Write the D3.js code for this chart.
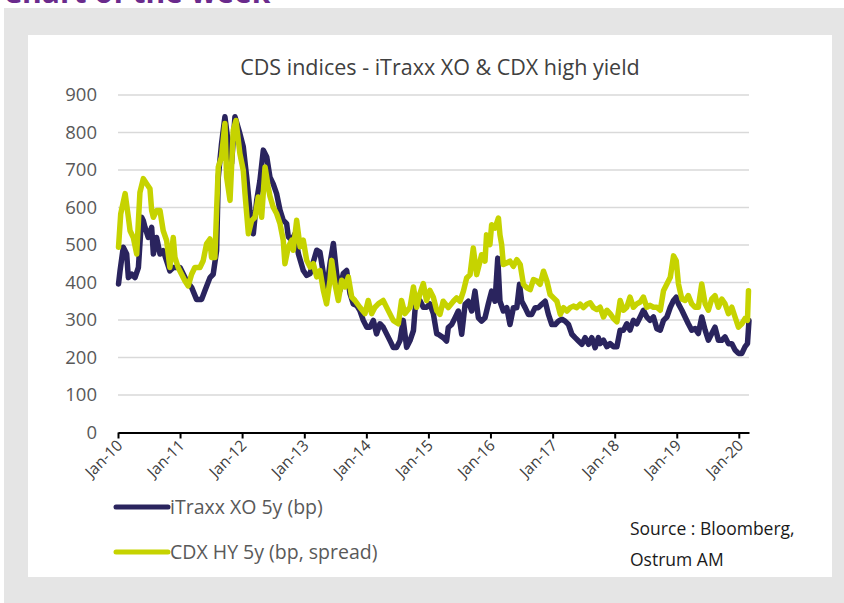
<!DOCTYPE html>
<html>
<head>
<meta charset="utf-8">
<script src="https://cdn.jsdelivr.net/npm/d3@7"></script>
<style>
  body { margin: 0; background: #fff; }
  svg { display: block; font-family: "Open Sans", Lato, sans-serif; }
</style>
</head>
<body>
<div id="chart"></div>
<script>
// iTraxx Crossover 5y (bp)
const itraxx = [
    ['2010-01-04', 396], ['2010-01-13', 431], ['2010-02-01', 494], ['2010-02-21', 476],
    ['2010-03-03', 413], ['2010-03-23', 422], ['2010-04-11', 413], ['2010-05-01', 440],
    ['2010-05-20', 574], ['2010-05-30', 565], ['2010-06-09', 547], ['2010-06-28', 520],
    ['2010-07-18', 547], ['2010-07-28', 476], ['2010-08-16', 520], ['2010-09-05', 476],
    ['2010-09-24', 485], ['2010-10-14', 458], ['2010-11-02', 431], ['2010-11-22', 440],
    ['2011-01-01', 440], ['2011-02-09', 404], ['2011-03-10', 387], ['2011-04-08', 355],
    ['2011-05-08', 355], ['2011-05-27', 378], ['2011-06-26', 413], ['2011-07-15', 422],
    ['2011-08-04', 485], ['2011-08-14', 681], ['2011-09-02', 770], ['2011-09-22', 842],
    ['2011-10-12', 770], ['2011-10-31', 717], ['2011-11-20', 842], ['2011-12-19', 797],
    ['2012-01-08', 762], ['2012-01-28', 681], ['2012-02-16', 592], ['2012-03-07', 530],
    ['2012-03-27', 619], ['2012-04-15', 672], ['2012-05-05', 753], ['2012-05-25', 735],
    ['2012-06-13', 681], ['2012-07-02', 663], ['2012-07-22', 637], ['2012-08-11', 593],
    ['2012-08-30', 566], ['2012-09-19', 557], ['2012-09-29', 522], ['2012-10-19', 513],
    ['2012-11-07', 530], ['2012-11-27', 477], ['2012-12-26', 432], ['2013-01-15', 419],
    ['2013-02-04', 424], ['2013-02-23', 455], ['2013-03-15', 486], ['2013-04-03', 481],
    ['2013-04-23', 424], ['2013-05-12', 379], ['2013-06-01', 450], ['2013-06-21', 504],
    ['2013-07-10', 424], ['2013-07-30', 379], ['2013-08-18', 424], ['2013-09-07', 432],
    ['2013-09-27', 370], ['2013-10-16', 343], ['2013-11-05', 339], ['2013-11-24', 325],
    ['2013-12-14', 299], ['2014-01-03', 281], ['2014-01-22', 281], ['2014-02-11', 299],
    ['2014-03-02', 263], ['2014-03-22', 290], ['2014-04-10', 281], ['2014-04-30', 263],
    ['2014-05-20', 245], ['2014-06-08', 227], ['2014-06-28', 227], ['2014-07-18', 245],
    ['2014-08-06', 299], ['2014-08-26', 227], ['2014-09-15', 245], ['2014-10-05', 272],
    ['2014-10-14', 325], ['2014-10-24', 352], ['2014-11-12', 352], ['2014-12-02', 334],
    ['2014-12-21', 334], ['2015-01-10', 343], ['2015-01-30', 317], ['2015-02-19', 263],
    ['2015-02-28', 262], ['2015-03-29', 253], ['2015-04-18', 244], ['2015-04-28', 280],
    ['2015-05-18', 288], ['2015-06-07', 306], ['2015-06-26', 324], ['2015-07-16', 262],
    ['2015-08-05', 342], ['2015-08-24', 350], ['2015-09-13', 324], ['2015-10-02', 377],
    ['2015-10-22', 306], ['2015-11-10', 297], ['2015-11-30', 306], ['2015-12-19', 342],
    ['2016-01-08', 377], ['2016-01-28', 350], ['2016-02-13', 465], ['2016-02-26', 350],
    ['2016-03-17', 324], ['2016-04-06', 333], ['2016-04-25', 288], ['2016-05-15', 333],
    ['2016-06-04', 333], ['2016-06-20', 395], ['2016-07-03', 350], ['2016-07-23', 333],
    ['2016-08-11', 315], ['2016-08-31', 315], ['2016-09-20', 333], ['2016-10-09', 333],
    ['2016-10-29', 342], ['2016-11-18', 350], ['2016-12-07', 315], ['2016-12-27', 288],
    ['2017-01-16', 288], ['2017-02-04', 297], ['2017-02-24', 302], ['2017-03-15', 297],
    ['2017-04-04', 288], ['2017-04-24', 262], ['2017-05-13', 253], ['2017-06-02', 244],
    ['2017-06-22', 235], ['2017-07-11', 253], ['2017-07-31', 235], ['2017-08-19', 253],
    ['2017-09-08', 226], ['2017-09-27', 253], ['2017-10-07', 237], ['2017-10-27', 246],
    ['2017-11-16', 229], ['2017-12-05', 237], ['2017-12-25', 229], ['2018-01-14', 229],
    ['2018-02-02', 273], ['2018-02-22', 273], ['2018-03-13', 290], ['2018-04-01', 273],
    ['2018-04-21', 299], ['2018-05-11', 290], ['2018-05-31', 308], ['2018-06-19', 326],
    ['2018-07-09', 308], ['2018-07-28', 299], ['2018-08-17', 308], ['2018-09-06', 277],
    ['2018-09-26', 273], ['2018-10-15', 299], ['2018-11-04', 308], ['2018-11-24', 334],
    ['2018-12-13', 352], ['2018-12-29', 361], ['2019-01-11', 343], ['2019-01-31', 326],
    ['2019-02-19', 308], ['2019-03-10', 290], ['2019-03-30', 273], ['2019-04-19', 277],
    ['2019-05-08', 264], ['2019-05-28', 308], ['2019-06-17', 273], ['2019-07-06', 246],
    ['2019-07-26', 264], ['2019-08-14', 281], ['2019-09-03', 246], ['2019-09-23', 246],
    ['2019-10-12', 255], ['2019-11-01', 237], ['2019-11-21', 237], ['2019-12-10', 220],
    ['2019-12-30', 211], ['2020-01-19', 211], ['2020-02-07', 229], ['2020-02-21', 237],
    ['2020-03-01', 299]
];

// CDX HY 5y (bp, spread)
const cdxHy = [
    ['2010-01-04', 494], ['2010-01-17', 583], ['2010-02-12', 637], ['2010-03-03', 574],
    ['2010-03-13', 538], ['2010-04-01', 520], ['2010-04-21', 476], ['2010-05-10', 640],
    ['2010-05-30', 677], ['2010-06-19', 663], ['2010-07-08', 650], ['2010-07-18', 592],
    ['2010-07-28', 574], ['2010-08-16', 592], ['2010-09-05', 592], ['2010-09-24', 538],
    ['2010-10-14', 512], ['2010-11-02', 440], ['2010-11-22', 520], ['2010-12-02', 467],
    ['2010-12-21', 440], ['2011-01-10', 422], ['2011-01-30', 404], ['2011-02-18', 391],
    ['2011-03-10', 422], ['2011-03-29', 440], ['2011-04-28', 440], ['2011-05-17', 458],
    ['2011-06-06', 503], ['2011-06-26', 516], ['2011-07-05', 467], ['2011-07-25', 467],
    ['2011-08-04', 592], ['2011-08-14', 708], ['2011-09-02', 735], ['2011-09-22', 824],
    ['2011-10-02', 681], ['2011-10-22', 619], ['2011-11-10', 806], ['2011-11-26', 832],
    ['2011-12-19', 744], ['2012-01-08', 699], ['2012-01-18', 637], ['2012-02-07', 530],
    ['2012-02-26', 565], ['2012-03-17', 574], ['2012-04-05', 628], ['2012-04-25', 574],
    ['2012-05-15', 708], ['2012-06-03', 654], ['2012-06-13', 630], ['2012-07-02', 601],
    ['2012-07-22', 584], ['2012-08-11', 557], ['2012-08-30', 513], ['2012-09-09', 450],
    ['2012-09-29', 495], ['2012-10-19', 513], ['2012-10-28', 486], ['2012-11-17', 566],
    ['2012-12-07', 495], ['2012-12-26', 513], ['2013-01-15', 459], ['2013-02-04', 441],
    ['2013-02-23', 450], ['2013-03-15', 415], ['2013-04-03', 432], ['2013-04-23', 379],
    ['2013-05-12', 343], ['2013-06-01', 406], ['2013-06-11', 459], ['2013-06-30', 397],
    ['2013-07-20', 352], ['2013-08-09', 406], ['2013-08-28', 388], ['2013-09-17', 415],
    ['2013-10-07', 361], ['2013-10-26', 352], ['2013-11-24', 334], ['2013-12-24', 317],
    ['2014-01-12', 352], ['2014-02-01', 317], ['2014-02-21', 334], ['2014-03-12', 343],
    ['2014-04-10', 352], ['2014-05-10', 325], ['2014-06-08', 299], ['2014-07-08', 290],
    ['2014-07-27', 352], ['2014-08-16', 317], ['2014-09-15', 334], ['2014-10-05', 388],
    ['2014-10-24', 334], ['2014-11-12', 370], ['2014-12-02', 397], ['2014-12-21', 352],
    ['2015-01-10', 379], ['2015-01-30', 361], ['2015-02-19', 325], ['2015-03-10', 315],
    ['2015-03-29', 350], ['2015-04-28', 333], ['2015-05-28', 350], ['2015-06-16', 359],
    ['2015-07-06', 350], ['2015-07-26', 377], ['2015-08-14', 412], ['2015-09-03', 421],
    ['2015-09-22', 492], ['2015-10-12', 421], ['2015-11-01', 457], ['2015-11-10', 474],
    ['2015-11-30', 457], ['2015-12-09', 527], ['2015-12-29', 501], ['2016-01-08', 554],
    ['2016-01-28', 545], ['2016-02-17', 572], ['2016-02-26', 527], ['2016-03-07', 501],
    ['2016-03-17', 448], ['2016-04-06', 452], ['2016-04-25', 457], ['2016-05-15', 443],
    ['2016-06-04', 461], ['2016-06-24', 448], ['2016-07-13', 395], ['2016-08-02', 386],
    ['2016-08-22', 381], ['2016-09-10', 408], ['2016-09-30', 404], ['2016-10-19', 395],
    ['2016-11-08', 430], ['2016-11-28', 404], ['2016-12-17', 368], ['2017-01-06', 359],
    ['2017-01-26', 350], ['2017-02-15', 315], ['2017-03-06', 333], ['2017-03-26', 324],
    ['2017-04-14', 333], ['2017-05-03', 337], ['2017-05-23', 333], ['2017-06-12', 342],
    ['2017-07-01', 333], ['2017-07-21', 342], ['2017-08-10', 346], ['2017-08-29', 333],
    ['2017-09-18', 328], ['2017-10-07', 334], ['2017-10-27', 308], ['2017-11-16', 326],
    ['2017-12-05', 317], ['2017-12-25', 304], ['2018-01-14', 295], ['2018-02-02', 352],
    ['2018-02-22', 326], ['2018-03-13', 334], ['2018-04-01', 361], ['2018-04-21', 334],
    ['2018-05-11', 343], ['2018-05-31', 348], ['2018-06-19', 361], ['2018-07-09', 334],
    ['2018-07-28', 339], ['2018-08-17', 334], ['2018-09-06', 334], ['2018-09-26', 326],
    ['2018-10-15', 378], ['2018-11-04', 396], ['2018-11-24', 414], ['2018-12-13', 471],
    ['2018-12-29', 458], ['2019-01-11', 396], ['2019-01-31', 356], ['2019-02-19', 352],
    ['2019-03-10', 365], ['2019-03-30', 343], ['2019-04-19', 334], ['2019-05-08', 334],
    ['2019-05-28', 396], ['2019-06-17', 343], ['2019-07-06', 326], ['2019-07-26', 356],
    ['2019-08-14', 365], ['2019-09-03', 334], ['2019-09-23', 356], ['2019-10-12', 343],
    ['2019-11-01', 317], ['2019-11-21', 334], ['2019-12-10', 308], ['2019-12-30', 281],
    ['2020-01-19', 290], ['2020-02-07', 304], ['2020-02-21', 299], ['2020-02-27', 378]
];

const yTicks = [0, 100, 200, 300, 400, 500, 600, 700, 800, 900];
const xTickYears = [2010, 2011, 2012, 2013, 2014, 2015, 2016, 2017, 2018, 2019, 2020];

const seriesInfo = [
    { name: 'iTraxx XO 5y (bp)', data: itraxx, color: '#2a245e' },
    { name: 'CDX HY 5y (bp, spread)', data: cdxHy, color: '#c6d300' }
];

const width = 844;
const height = 603;
const marginLeft = 118;
const marginRight = 95;
const marginTop = 95;
const plotBottom = 432.5;

const parseDate = d3.timeParse('%Y-%m-%d');

const svg = d3.select('#chart').append('svg')
    .attr('width', width)
    .attr('height', height)
    .attr('viewBox', [0, 0, width, height]);

// page header, mostly cut off at the top
svg.append('text')
    .attr('x', 3)
    .attr('y', 3)
    .attr('fill', '#6a2a8c')
    .attr('font-weight', 'bold')
    .attr('font-size', 30)
    .text('Chart of the week');

svg.append('rect')
    .attr('x', 4).attr('y', 8)
    .attr('width', width - 4).attr('height', height - 8)
    .attr('fill', '#e5e5e5');

svg.append('rect')
    .attr('x', 28).attr('y', 35)
    .attr('width', 804).attr('height', 542)
    .attr('fill', '#ffffff');

const x = d3.scaleTime()
    .domain([new Date(2010, 0, 1), new Date(2020, 2, 1)])
    .range([marginLeft, width - marginRight]);

const y = d3.scaleLinear()
    .domain([0, 900])
    .range([plotBottom, marginTop]);

// gridlines
svg.append('g')
    .selectAll('line')
    .data(yTicks.filter(d => d > 0))
    .join('line')
    .attr('x1', marginLeft)
    .attr('x2', width - marginRight)
    .attr('y1', d => y(d))
    .attr('y2', d => y(d))
    .attr('stroke', '#d9d9d9')
    .attr('stroke-width', 1.5);

// y axis labels
svg.append('g')
    .attr('transform', `translate(${marginLeft - 21},0)`)
    .call(d3.axisLeft(y).tickValues(yTicks).tickSize(0).tickPadding(0))
    .call(g => g.select('.domain').remove())
    .call(g => g.selectAll('text')
        .attr('fill', '#595959')
        .attr('font-size', 18.5)
        .attr('font-family', '"Open Sans", sans-serif'));

// series lines
const line = d3.line()
    .x(d => x(parseDate(d[0])))
    .y(d => y(d[1]));

svg.append('g')
    .selectAll('path')
    .data(seriesInfo)
    .join('path')
    .attr('fill', 'none')
    .attr('stroke', d => d.color)
    .attr('stroke-width', 5.5)
    .attr('stroke-linejoin', 'round')
    .attr('stroke-linecap', 'round')
    .attr('d', d => line(d.data));

// x axis
svg.append('g')
    .attr('transform', `translate(0,${plotBottom})`)
    .call(d3.axisBottom(x)
        .tickValues(xTickYears.map(yr => new Date(yr, 0, 1)))
        .tickFormat(d3.timeFormat('%b-%y'))
        .tickSize(6)
        .tickSizeOuter(0))
    .call(g => g.select('.domain').attr('stroke', '#000').attr('stroke-width', 2))
    .call(g => g.selectAll('.tick line').attr('stroke', '#000').attr('stroke-width', 2))
    .call(g => g.selectAll('text')
        .attr('fill', '#404040')
        .attr('font-size', 15.5)
        .attr('font-family', '"Open Sans", sans-serif')
        .attr('text-anchor', 'end')
        .attr('dy', null)
        .attr('y', 0)
        .attr('transform', 'translate(5,14) rotate(-45)'));

// title
svg.append('text')
    .attr('x', 440)
    .attr('y', 75)
    .attr('text-anchor', 'middle')
    .attr('fill', '#404040')
    .attr('font-size', 21.5)
    .text('CDS indices - iTraxx XO & CDX high yield');

// legend
const legend = svg.append('g')
    .selectAll('g')
    .data(seriesInfo)
    .join('g')
    .attr('transform', (d, i) => `translate(116,${507 + i * 45})`);

legend.append('line')
    .attr('x1', 0).attr('x2', 52)
    .attr('stroke', d => d.color)
    .attr('stroke-width', 5)
    .attr('stroke-linecap', 'round');

legend.append('text')
    .attr('x', 54)
    .attr('dy', '0.35em')
    .attr('fill', '#595959')
    .attr('font-size', 19.5)
    .text(d => d.name);

// source note
svg.append('g')
    .selectAll('text')
    .data(['Source : Bloomberg,', 'Ostrum AM'])
    .join('text')
    .attr('x', 630)
    .attr('y', (d, i) => 535 + i * 31)
    .attr('fill', '#1a1a1a')
    .attr('font-size', 17.5)
    .text(d => d);
</script>
</body>
</html>
